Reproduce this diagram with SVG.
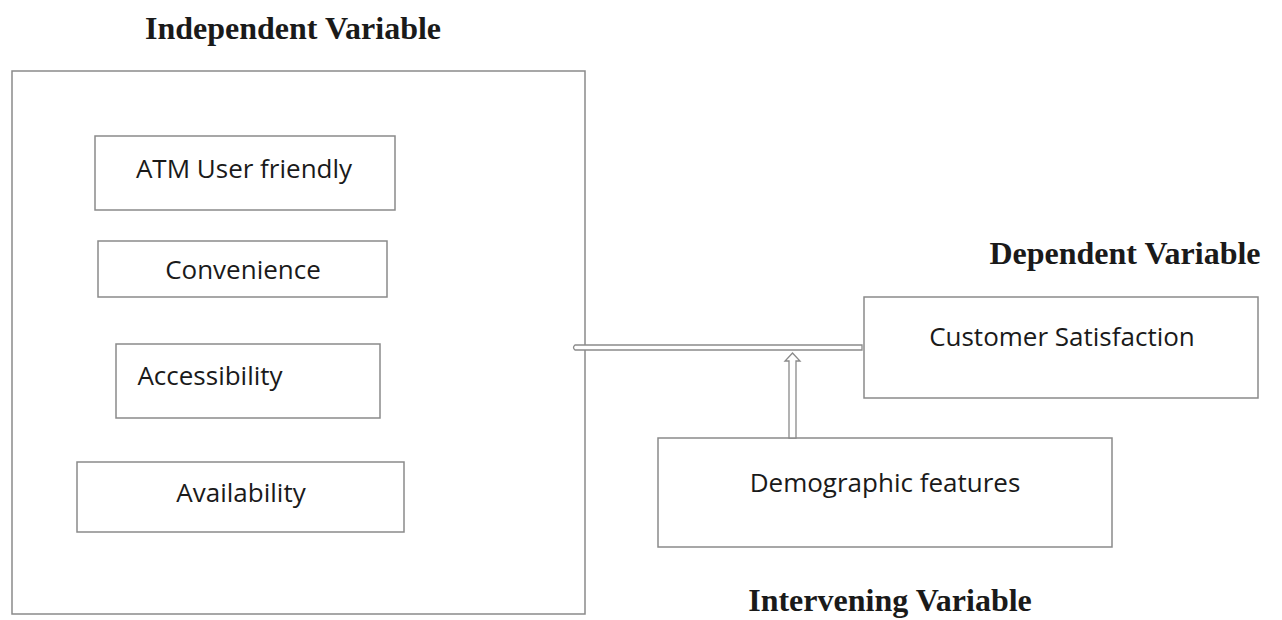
<svg xmlns="http://www.w3.org/2000/svg" width="1282" height="620" viewBox="0 0 1282 620">
<style>
.box{fill:#fff;stroke:#8a8a8a;stroke-width:1.5}
.lbl{font-family:"Open Sans","Liberation Sans",sans-serif;font-size:26px;fill:#1a1a1a}
.ttl{font-family:"Liberation Serif","Times New Roman",serif;font-size:32px;font-weight:bold;fill:#1a1a1a}
.conn{fill:#fff;stroke:#8a8a8a;stroke-width:1.3}
</style>
<rect width="1282" height="620" fill="#fff"/>
<text class="ttl" x="293" y="39" text-anchor="middle">Independent Variable</text>
<text class="ttl" x="1125" y="264" text-anchor="middle">Dependent Variable</text>
<text class="ttl" x="890" y="611" text-anchor="middle">Intervening Variable</text>
<g id="independent">
<rect class="box" x="12" y="71" width="573" height="543"/>
</g>
<g id="atm"><rect class="box" x="95" y="136" width="300" height="74"/><text class="lbl" x="244" y="178" text-anchor="middle">ATM User friendly</text></g>
<g id="convenience"><rect class="box" x="98" y="241" width="289" height="56"/><text class="lbl" x="243" y="279" text-anchor="middle">Convenience</text></g>
<g id="accessibility"><rect class="box" x="116" y="344" width="264" height="74"/><text class="lbl" x="210" y="385" text-anchor="middle">Accessibility</text></g>
<g id="availability"><rect class="box" x="77" y="462" width="327" height="70"/><text class="lbl" x="241" y="502" text-anchor="middle">Availability</text></g>
<g id="customer"><rect class="box" x="864" y="297" width="394" height="101"/><text class="lbl" x="1062" y="346" text-anchor="middle">Customer Satisfaction</text></g>
<g id="demographic"><rect class="box" x="658" y="438" width="454" height="109"/><text class="lbl" x="885" y="492" text-anchor="middle">Demographic features</text></g>
<g id="connectors">
<path class="conn" d="M862,345 L575,345 Q572,347.5 575,350 L862,350 Z"/>
<path class="conn" d="M789,438 L789,361 L785,361 L792.5,353 L800,361 L796,361 L796,438 Z"/>
</g>
</svg>
